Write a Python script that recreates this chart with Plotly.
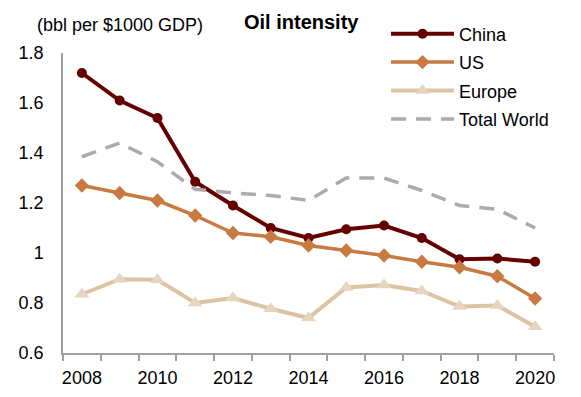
import plotly.graph_objects as go

years = list(range(2008, 2021))
china = [1.72, 1.61, 1.54, 1.285, 1.19, 1.10, 1.06, 1.095, 1.11, 1.06, 0.975, 0.978, 0.965]
us = [1.27, 1.24, 1.21, 1.15, 1.08, 1.065, 1.03, 1.01, 0.99, 0.965, 0.943, 0.907, 0.818]
europe = [0.835, 0.895, 0.893, 0.80, 0.82, 0.777, 0.74, 0.862, 0.872, 0.848, 0.786, 0.79, 0.705]
world = [1.385, 1.44, 1.365, 1.255, 1.24, 1.23, 1.21, 1.30, 1.30, 1.25, 1.19, 1.175, 1.10]

x_ticks = [2008, 2010, 2012, 2014, 2016, 2018, 2020]
y_ticks = [0.6, 0.8, 1.0, 1.2, 1.4, 1.6, 1.8]
y_ticktext = ["0.6", "0.8", "1", "1.2", "1.4", "1.6", "1.8"]

FONT = "Liberation Sans, Arial, sans-serif"

fig = go.Figure()
fig.add_trace(go.Scatter(x=years, y=china, name="China", mode="lines+markers",
                         line=dict(color="#640000", width=4),
                         marker=dict(symbol="circle", size=10, color="#640000"),
                         legendgroup="a"))
fig.add_trace(go.Scatter(x=years, y=us, name="US", mode="lines+markers",
                         line=dict(color="#C87A40", width=3.5),
                         marker=dict(symbol="diamond", size=11, color="#C87A40"),
                         legendgroup="b"))
fig.add_trace(go.Scatter(x=years, y=europe, name="Europe", mode="lines+markers",
                         line=dict(color="#DCC4A2", width=4),
                         marker=dict(symbol="triangle-up", size=13, color="#E6D6BF"),
                         legendgroup="c"))
fig.add_trace(go.Scatter(x=years, y=world, name="Total World", mode="lines",
                         line=dict(color="#ABABAB", width=3.5, dash="15px,10px"),
                         legendgroup="d"))

pw = 581 - 63 - 27
ph = 397 - 53 - 44

fig.update_layout(
    width=581, height=397,
    margin=dict(l=63, r=27, t=53, b=44, autoexpand=False),
    paper_bgcolor="white", plot_bgcolor="white",
    font=dict(family=FONT, size=18, color="black"),
    showlegend=True,
    legend=dict(x=(386 - 63) / pw, y=1 + (53 - 15.5) / ph, xanchor="left", yanchor="top",
                bgcolor="rgba(0,0,0,0)", font=dict(size=18),
                itemwidth=63, tracegroupgap=2, traceorder="grouped"),
    annotations=[
        dict(text="<b>Oil intensity</b>", x=(301 - 63) / pw, y=1 + (53 - 22) / ph,
             xref="paper", yref="paper", xanchor="center", yanchor="middle",
             showarrow=False, font=dict(size=20, family=FONT)),
        dict(text="(bbl per $1000 GDP)", x=(120 - 63) / pw, y=1 + (53 - 25) / ph,
             xref="paper", yref="paper", xanchor="center", yanchor="middle",
             showarrow=False, font=dict(size=18, family=FONT)),
    ],
)

fig.update_xaxes(range=[2007.5, 2020.5], tickvals=x_ticks, ticks="",
                 showline=True, linecolor="#A0A0A0", linewidth=1.5,
                 showgrid=False, zeroline=False,
                 minor=dict(tick0=2007.5, dtick=1, ticks="outside", ticklen=6,
                            tickcolor="#A0A0A0", tickwidth=1.5, showgrid=False),
                 ticklabelstandoff=8)
fig.update_yaxes(range=[0.6, 1.8], tickvals=y_ticks, ticktext=y_ticktext, ticks="",
                 showline=True, linecolor="#A0A0A0", linewidth=1.5,
                 showgrid=False, zeroline=False, ticklabelstandoff=14)

fig.write_html("out.html", config={"displayModeBar": False},
               post_script="document.body.style.margin='0px';")
